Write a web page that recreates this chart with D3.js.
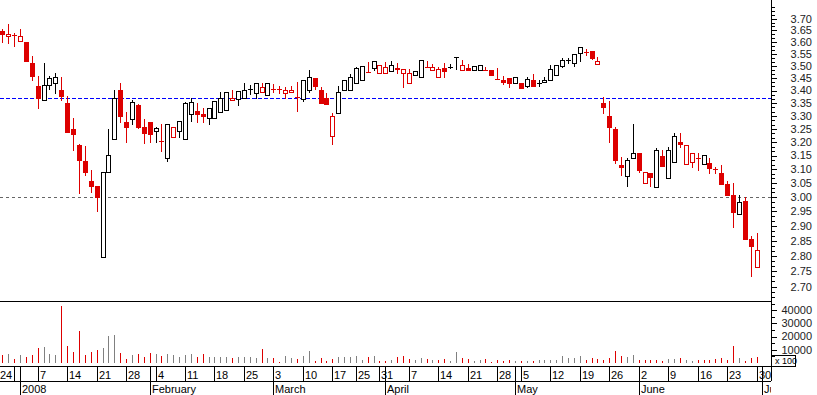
<!DOCTYPE html>
<html><head><meta charset="utf-8">
<script src="https://cdn.jsdelivr.net/npm/d3@7"></script>
<style>html,body{margin:0;padding:0;background:#fff;}svg{display:block;font-family:"Liberation Sans",Arial,sans-serif;}</style>
</head><body><svg id="c" width="817" height="395"></svg>
<script>
// ---- calendar ----
const axisStart = "2007-12-24", axisEnd = "2008-07-01";
const holidays = ["2007-12-25","2007-12-26","2008-01-01","2008-03-21","2008-03-24","2008-05-01"];
const firstCandle = "2007-12-27";

// ---- daily prices (Dec 27 2007 .. Jun 30 2008) ----
const open = [3.645,3.624,3.629,
 3.603,3.600,3.514,3.419,3.362,3.421,3.429,3.403,3.351,3.250,3.190,3.131,3.057,3.039,2.795,3.089,3.211,3.403,3.278,3.290,3.343,3.257,
 3.277,3.242,3.204,3.140,3.221,3.244,3.211,3.307,3.320,3.309,3.291,3.291,3.314,3.322,3.362,3.366,3.370,3.406,3.389,3.393,3.383,
 3.407,3.405,3.389,3.393,3.373,3.367,3.402,3.450,3.404,3.372,3.225,3.311,3.402,3.402,3.432,3.441,3.475,3.493,3.470,
 3.470,3.481,3.487,3.470,3.432,3.463,3.453,3.496,3.482,3.454,3.492,3.497,3.536,3.484,3.492,3.484,3.484,3.484,3.484,3.446,3.443,3.450,
 3.430,3.432,3.420,3.443,3.432,3.433,3.443,3.463,3.500,3.526,3.511,3.554,3.559,3.561,3.507,3.350,3.300,3.250,3.115,3.077,3.140,
 3.160,3.049,3.085,3.037,3.149,3.067,3.125,3.201,3.118,3.125,3.142,3.118,3.123,3.101,3.086,3.045,3.007,2.940,2.986,2.856,2.764];
const high = [3.654,3.677,3.637,
 3.654,3.600,3.541,3.459,3.514,3.460,3.472,3.454,3.379,3.294,3.192,3.184,3.098,3.041,3.089,3.251,3.403,3.432,3.316,3.363,3.347,3.288,
 3.278,3.258,3.270,3.268,3.258,3.280,3.355,3.370,3.350,3.330,3.330,3.359,3.393,3.393,3.403,3.400,3.429,3.424,3.429,3.432,3.429,
 3.425,3.419,3.415,3.419,3.436,3.443,3.484,3.450,3.416,3.392,3.311,3.419,3.441,3.467,3.494,3.499,3.517,3.521,3.504,
 3.515,3.521,3.512,3.486,3.487,3.481,3.523,3.522,3.510,3.496,3.512,3.507,3.536,3.525,3.510,3.501,3.503,3.495,3.484,3.491,3.460,3.450,
 3.453,3.432,3.456,3.469,3.443,3.454,3.504,3.502,3.532,3.532,3.549,3.580,3.569,3.561,3.537,3.373,3.359,3.259,3.144,3.140,3.269,
 3.160,3.089,3.085,3.177,3.171,3.183,3.234,3.234,3.190,3.160,3.159,3.151,3.140,3.109,3.115,3.058,3.049,3.007,2.999,2.867,2.877];
const low = [3.601,3.597,3.584,
 3.603,3.522,3.443,3.332,3.362,3.405,3.392,3.363,3.238,3.170,3.016,3.080,3.019,2.950,2.795,3.089,3.211,3.278,3.202,3.268,3.253,3.196,
 3.202,3.202,3.167,3.131,3.221,3.221,3.211,3.281,3.278,3.278,3.270,3.291,3.314,3.322,3.362,3.343,3.370,3.385,3.370,3.393,3.383,
 3.393,3.392,3.372,3.393,3.321,3.359,3.393,3.406,3.352,3.345,3.193,3.311,3.402,3.402,3.430,3.441,3.475,3.484,3.470,
 3.470,3.481,3.471,3.415,3.432,3.463,3.453,3.496,3.482,3.454,3.456,3.491,3.487,3.484,3.484,3.484,3.484,3.484,3.461,3.446,3.425,3.415,
 3.430,3.409,3.416,3.420,3.420,3.433,3.443,3.463,3.497,3.511,3.500,3.519,3.546,3.530,3.507,3.311,3.202,3.124,3.079,3.040,3.140,
 3.091,3.049,3.040,3.037,3.113,3.067,3.125,3.183,3.118,3.109,3.097,3.118,3.087,3.085,3.048,3.009,2.897,2.940,2.857,2.735,2.764];
const close = [3.636,3.633,3.629,
 3.625,3.522,3.459,3.371,3.421,3.452,3.455,3.380,3.240,3.232,3.132,3.088,3.041,2.999,3.089,3.152,3.370,3.301,3.258,3.355,3.258,3.236,
 3.231,3.253,3.204,3.268,3.258,3.280,3.350,3.354,3.309,3.299,3.330,3.359,3.370,3.393,3.372,3.400,3.403,3.406,3.429,3.415,3.429,
 3.407,3.405,3.402,3.401,3.373,3.443,3.454,3.417,3.352,3.345,3.301,3.393,3.441,3.454,3.492,3.499,3.475,3.521,3.504,
 3.495,3.504,3.493,3.486,3.470,3.481,3.523,3.496,3.494,3.486,3.478,3.497,3.536,3.502,3.484,3.501,3.503,3.484,3.461,3.446,3.433,3.430,
 3.453,3.409,3.446,3.420,3.432,3.443,3.486,3.502,3.525,3.526,3.549,3.578,3.559,3.534,3.521,3.334,3.259,3.134,3.107,3.134,3.160,
 3.097,3.089,3.071,3.171,3.113,3.171,3.224,3.192,3.190,3.160,3.142,3.151,3.106,3.101,3.048,3.009,2.949,2.982,2.857,2.833,2.819];
const volume = [5800,6600,2800,
 5800,4500,5800,11400,12100,7100,5800,42900,12600,8300,24200,5800,8300,10100,11400,20400,21000,7600,3300,5800,6600,4500,
 7600,6600,5300,6600,5800,4500,5800,6600,4500,6600,4500,4500,4500,4500,3800,4500,4500,4500,3800,10400,3800,
 3800,1000,5100,3800,3300,5100,8800,1300,3800,1500,3300,4500,4500,4500,5100,2500,4500,5100,1800,
 1300,2500,4500,5100,3300,2000,3800,3300,2000,2500,3300,1300,8300,3800,3300,1500,2500,3300,800,2000,1500,2000,
 1500,1500,1500,1500,2000,2000,2500,2500,5300,4000,4000,5100,2000,3800,3300,2000,3800,8800,5300,4500,5800,
 2000,2000,2000,2000,1300,3300,3300,3800,2000,1300,2000,2000,2500,2800,3800,2000,12900,3800,1500,3800,4500];
// 1 = up-volume (grey), 0 = down-volume (red)
const volUp = [0,1,0,
 1,0,0,0,1,1,1,0,0,0,0,0,0,0,1,1,1,0,0,1,0,0,
 0,1,0,1,1,1,1,1,0,0,1,1,1,1,0,1,1,1,1,0,1,
 0,0,1,1,0,1,1,0,0,0,0,1,1,1,1,1,0,1,0,
 0,1,0,0,0,1,1,0,1,0,0,1,1,0,0,1,1,0,0,0,0,0,
 1,0,1,0,1,1,1,1,1,1,1,1,0,0,0,0,0,0,0,1,1,
 0,0,0,0,0,1,1,0,1,1,0,0,0,0,0,0,0,1,0,0,0];

// ---- reference lines & axes ----
const refBlue = 3.37, refGrey = 3.00;
const priceTicks = [2.70,2.75,2.80,2.85,2.90,2.95,3.00,3.05,3.10,3.15,3.20,3.25,3.30,3.35,3.40,3.45,3.50,3.55,3.60,3.65,3.70];
const volTicks = [10000,20000,30000,40000];
const weekTickDates = ["2007-12-24","2007-12-31","2008-01-07","2008-01-14","2008-01-21","2008-01-28","2008-02-04","2008-02-11","2008-02-18","2008-02-25","2008-03-03","2008-03-10","2008-03-17","2008-03-25","2008-03-31","2008-04-07","2008-04-14","2008-04-21","2008-04-28","2008-05-05","2008-05-12","2008-05-19","2008-05-26","2008-06-02","2008-06-09","2008-06-16","2008-06-23","2008-06-30"];
const weekTickLabels = ["24","","7","14","21","28","4","11","18","25","3","10","17","25","31","7","14","21","28","5","12","19","26","2","9","16","23","30"];
const monthDates = ["2008-01-02","2008-02-01","2008-03-03","2008-04-01","2008-05-02","2008-06-02","2008-07-01"];
const monthLabels = ["2008","February","March","April","May","June","July"];

// ---- build ----
const fmt = d3.timeFormat("%Y-%m-%d"), parse = d3.timeParse("%Y-%m-%d");
const days = d3.timeDay.range(parse(axisStart), d3.timeDay.offset(parse(axisEnd),1))
  .filter(d => d.getDay()!==0 && d.getDay()!==6 && !holidays.includes(fmt(d))).map(fmt);
const i0 = days.indexOf(firstCandle);
const data = open.map((o,k)=>({i:i0+k,o,h:high[k],l:low[k],c:close[k],v:volume[k],vu:volUp[k]}));

const RED="#dd0000", BLK="#000000", GREY="#808080";
const plotR = 771;
const x = d3.scaleLinear().domain([0, days.length-1]).range([-3.54, -3.54 + (days.length-1)*5.892]);
const y = d3.scaleLog().domain([2.70,3.70]).range([286.7,18.7]);
const vy = d3.scaleLinear().domain([0,40000]).range([363,310.2]);
const svg = d3.select("#c");
svg.append("defs").append("clipPath").attr("id","clp").append("rect").attr("x",0).attr("y",0).attr("width",plotR).attr("height",395);

const g = svg.append("g").attr("clip-path","url(#clp)").attr("shape-rendering","crispEdges");
// reference lines
g.append("line").attr("x1",0).attr("x2",plotR).attr("y1",Math.round(y(refBlue))+0.5).attr("y2",Math.round(y(refBlue))+0.5)
 .attr("stroke","#0000ff").attr("stroke-dasharray","4,2");
g.append("line").attr("x1",0).attr("x2",plotR).attr("y1",Math.round(y(refGrey))+0.5).attr("y2",Math.round(y(refGrey))+0.5)
 .attr("stroke","#666").attr("stroke-dasharray","3,3");

data.forEach((d,k)=>{
  const prev = k>0 ? data[k-1].c : d.o;
  const col = d.c < prev ? RED : BLK;
  const cx = Math.round(x(d.i));
  const yo = Math.round(y(d.o)), yc = Math.round(y(d.c)), yh = Math.round(y(d.h)), yl = Math.round(y(d.l));
  g.append("line").attr("x1",cx+0.5).attr("x2",cx+0.5).attr("y1",yh).attr("y2",yl+1).attr("stroke",col);
  if (yo===yc || d.o===d.c) {
    g.append("line").attr("x1",cx-2).attr("x2",cx+3).attr("y1",yc+0.5).attr("y2",yc+0.5).attr("stroke",col);
  } else if (d.c < d.o) {
    g.append("rect").attr("x",cx-2).attr("y",yo).attr("width",5).attr("height",Math.max(1,yc-yo+1)).attr("fill",col);
  } else {
    g.append("rect").attr("x",cx-1.5).attr("y",yc+0.5).attr("width",4).attr("height",Math.max(1,yo-yc)).attr("fill","#fff").attr("stroke",col);
  }
  // volume
  g.append("line").attr("x1",cx+0.5).attr("x2",cx+0.5).attr("y1",Math.round(vy(d.v))).attr("y2",363)
   .attr("stroke", d.vu ? GREY : RED);
});

// frame lines
const f = svg.append("g").attr("shape-rendering","crispEdges").attr("stroke","#000");
f.append("line").attr("x1",0).attr("x2",plotR).attr("y1",301.5).attr("y2",301.5);
f.append("line").attr("x1",plotR+0.5).attr("x2",plotR+0.5).attr("y1",0).attr("y2",381);
f.append("line").attr("x1",0).attr("x2",796).attr("y1",366.5).attr("y2",366.5);
f.append("line").attr("x1",0).attr("x2",plotR).attr("y1",381.5).attr("y2",381.5);
f.append("rect").attr("x",plotR+0.5).attr("y",355.5).attr("width",24).attr("height",11).attr("fill","#fff");
svg.append("text").attr("x",775).attr("y",364).attr("font-size",9).attr("fill","#000").text("x 100");

// price axis ticks
const ax = svg.append("g").attr("shape-rendering","crispEdges");
priceTicks.forEach((p,k)=>{
  const yy = Math.round(y(p))+0.5;
  ax.append("line").attr("x1",plotR).attr("x2",plotR+6).attr("y1",yy).attr("y2",yy).attr("stroke","#000");
  ax.append("text").attr("x",812).attr("y",y(p)).attr("dy","0.35em").attr("text-anchor","end")
    .attr("font-size",11).attr("fill","#222").attr("shape-rendering","auto").text(p.toFixed(2));
});
const minorP = [];
for (let k=-1;k<priceTicks.length;k++){
  const a = k<0 ? 2.65 : priceTicks[k];
  for (let s=1;s<3;s++) minorP.push(a + 0.05*s/3);
}
minorP.push(3.75);
minorP.forEach(p=>{
  const yy = Math.round(y(p))+0.5;
  if (yy>0 && yy<301) ax.append("line").attr("x1",plotR).attr("x2",plotR+4).attr("y1",yy).attr("y2",yy).attr("stroke","#000");
});
// volume axis ticks
d3.range(5000,50000,5000).forEach(v=>{
  const yy = Math.round(vy(v))+0.5;
  const major = v%10000===0;
  ax.append("line").attr("x1",plotR).attr("x2",plotR+(major?6:4)).attr("y1",yy).attr("y2",yy).attr("stroke","#000");
});
volTicks.forEach(v=>{
  ax.append("text").attr("x",812).attr("y",vy(v)).attr("dy","0.35em").attr("text-anchor","end")
    .attr("font-size",11).attr("fill","#222").text(v);
});

// date axis
const da = svg.append("g").attr("clip-path","url(#clp)");
weekTickDates.forEach((dt,k)=>{
  const xx = Math.round(x(days.indexOf(dt)))+0.5;
  da.append("line").attr("x1",xx).attr("x2",xx).attr("y1",366).attr("y2",381).attr("stroke","#000").attr("shape-rendering","crispEdges");
  da.append("text").attr("x",Math.max(0,xx+1.5)).attr("y",379).attr("font-size",11).attr("fill","#000").text(weekTickLabels[k]);
});
monthDates.forEach((dt,k)=>{
  const xx = Math.round(x(days.indexOf(dt)))+0.5;
  da.append("line").attr("x1",xx).attr("x2",xx).attr("y1",366).attr("y2",395).attr("stroke","#000").attr("shape-rendering","crispEdges");
  da.append("text").attr("x",xx+1.5).attr("y",393).attr("font-size",11).attr("fill","#000").text(monthLabels[k]);
});
</script></body></html>
